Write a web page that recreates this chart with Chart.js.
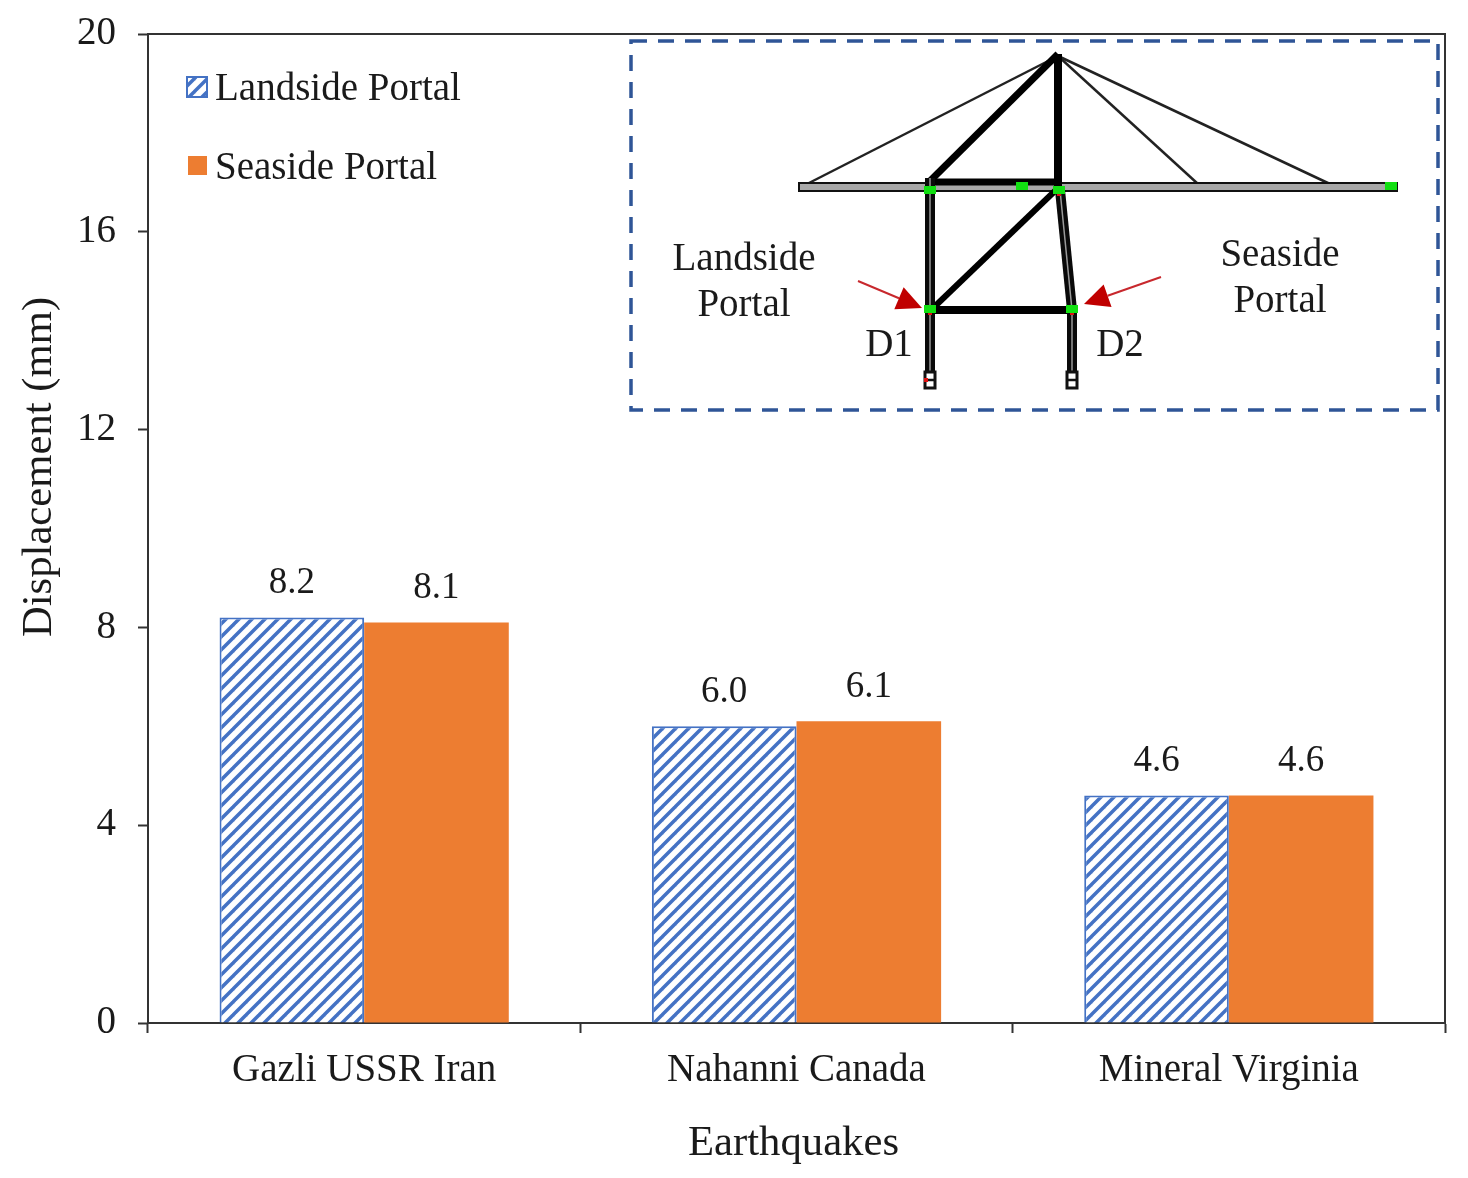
<!DOCTYPE html>
<html>
<head>
<meta charset="utf-8">
<title>Displacement by earthquake</title>
<script src="https://cdn.jsdelivr.net/npm/chart.js@4/dist/chart.umd.min.js"></script>
<style>
    html, body { margin: 0; padding: 0; background: #ffffff; }
    canvas { display: block; }
</style>
</head>
<body>
<canvas id="displacementChart" width="1468" height="1178"></canvas>
<script>
// Chart data
const earthquakes = ['Gazli USSR Iran', 'Nahanni Canada', 'Mineral Virginia'];
const landsideValues = [8.2, 6.0, 4.6];
const seasideValues = [8.1, 6.1, 4.6];
const yTicks = [0, 4, 8, 12, 16, 20];

const SERIF = '"Liberation Serif", "Times New Roman", serif';
const TEXT_COLOR = '#1a1a1a';
const AXIS_COLOR = '#333333';
const BLUE = '#4472c4';
const ORANGE = '#ed7d31';

// Diagonal hatch used by the landside bars
function makeHatch() {
    const size = 13;
    const tile = document.createElement('canvas');
    tile.width = size;
    tile.height = size;
    const c = tile.getContext('2d');
    c.fillStyle = '#ffffff';
    c.fillRect(0, 0, size, size);
    c.strokeStyle = BLUE;
    c.lineWidth = 3.5;
    [-size, 0, size].forEach(off => {
        c.beginPath();
        c.moveTo(off - 1, size + 1);
        c.lineTo(off + size + 1, -1);
        c.stroke();
    });
    return c.createPattern(tile, 'repeat');
}

function line(ctx, x1, y1, x2, y2, width, color) {
    ctx.strokeStyle = color || '#000000';
    ctx.lineWidth = width;
    ctx.beginPath();
    ctx.moveTo(x1, y1);
    ctx.lineTo(x2, y2);
    ctx.stroke();
}

// Double-walled member: dark outer stroke with a light core
function member(ctx, x1, y1, x2, y2, width) {
    line(ctx, x1, y1, x2, y2, width, '#0a0a0a');
    line(ctx, x1, y1, x2, y2, 1.5, '#9a9a9a');
}

function arrow(ctx, x1, y1, x2, y2) {
    const angle = Math.atan2(y2 - y1, x2 - x1);
    const headLen = 25;
    const headHalf = 12;
    const bx = x2 - headLen * Math.cos(angle);
    const by = y2 - headLen * Math.sin(angle);
    line(ctx, x1, y1, bx, by, 2, '#c8282d');
    ctx.fillStyle = '#c00000';
    ctx.beginPath();
    ctx.moveTo(x2, y2);
    ctx.lineTo(bx - headHalf * Math.sin(angle), by + headHalf * Math.cos(angle));
    ctx.lineTo(bx + headHalf * Math.sin(angle), by - headHalf * Math.cos(angle));
    ctx.closePath();
    ctx.fill();
}

// Crane sketch in the dashed box at the top right
function drawInset(ctx) {
    ctx.save();
    ctx.setLineDash([16, 11]);
    ctx.strokeStyle = '#2f5597';
    ctx.lineWidth = 3.5;
    ctx.strokeRect(631, 41, 807, 369);
    ctx.setLineDash([]);
    ctx.lineCap = 'butt';

    // Stays
    line(ctx, 1058, 56, 807, 184, 2.5, '#222222');
    line(ctx, 1058, 56, 1198, 184, 2.5, '#222222');
    line(ctx, 1058, 56, 1330, 184, 2.5, '#222222');

    // Boom
    ctx.fillStyle = '#a8a8a8';
    ctx.fillRect(799, 183, 598, 8);
    ctx.strokeStyle = '#111111';
    ctx.lineWidth = 2;
    ctx.strokeRect(799, 183, 598, 8);

    // Heavy frame
    line(ctx, 1058, 54, 930, 181, 7);
    line(ctx, 1058, 54, 1058, 186, 8);
    line(ctx, 927, 182, 1060, 182, 7);
    line(ctx, 1058, 188, 930, 311, 6);
    line(ctx, 930, 310, 1072, 310, 8);

    // Portal legs
    member(ctx, 930, 178, 930, 372, 10);
    member(ctx, 1060, 190, 1072, 310, 10);
    member(ctx, 1072, 310, 1072, 372, 10);

    // Feet
    [930, 1072].forEach(x => {
        ctx.fillStyle = '#ffffff';
        ctx.fillRect(x - 5, 372, 10, 16);
        ctx.strokeStyle = '#111111';
        ctx.lineWidth = 3;
        ctx.strokeRect(x - 5, 372, 10, 16);
        line(ctx, x - 5, 380, x + 5, 380, 2.5, '#111111');
    });

    // Node markers
    ctx.fillStyle = '#e01010';
    [[930, 313], [1059, 194], [1072, 313], [926, 380]].forEach(p => {
        ctx.fillRect(p[0] - 2, p[1] - 2, 4, 4);
    });
    ctx.fillStyle = '#12e012';
    [[930, 190], [1022, 186], [1059, 190], [1391, 186], [930, 309], [1072, 309]].forEach(p => {
        ctx.fillRect(p[0] - 6, p[1] - 4, 12, 8);
    });

    arrow(ctx, 858, 281, 922, 308);
    arrow(ctx, 1161, 277, 1084, 304);

    ctx.fillStyle = TEXT_COLOR;
    ctx.font = '39px ' + SERIF;
    ctx.textAlign = 'center';
    ctx.textBaseline = 'middle';
    ctx.fillText('Landside', 744, 260);
    ctx.fillText('Portal', 744, 306);
    ctx.fillText('Seaside', 1280, 256);
    ctx.fillText('Portal', 1280, 302);
    ctx.fillText('D1', 889, 346);
    ctx.fillText('D2', 1120, 346);
    ctx.restore();
}

// Axis titles sit off-centre in the original, so they are placed by hand
function drawAxisTitles(ctx) {
    ctx.save();
    ctx.fillStyle = TEXT_COLOR;
    ctx.font = '42.7px ' + SERIF;
    ctx.textAlign = 'center';
    ctx.textBaseline = 'middle';
    ctx.fillText('Earthquakes', 793.5, 1144);
    ctx.translate(40, 467);
    ctx.rotate(-Math.PI / 2);
    ctx.fillText('Displacement (mm)', 0, 0);
    ctx.restore();
}

// Legend, value labels, frame and inset
const decorations = {
    id: 'decorations',
    afterDatasetsDraw(chart) {
        const ctx = chart.ctx;
        const area = chart.chartArea;

        ctx.save();
        ctx.strokeStyle = AXIS_COLOR;
        ctx.lineWidth = 2;
        ctx.beginPath();
        ctx.moveTo(area.left, area.top);
        ctx.lineTo(area.right, area.top);
        ctx.lineTo(area.right, area.bottom);
        ctx.stroke();

        // Value labels above each bar
        ctx.fillStyle = TEXT_COLOR;
        ctx.font = '37px ' + SERIF;
        ctx.textAlign = 'center';
        ctx.textBaseline = 'middle';
        chart.data.datasets.forEach((dataset, i) => {
            chart.getDatasetMeta(i).data.forEach((bar, j) => {
                ctx.fillText(dataset.data[j].toFixed(1), bar.x, bar.y - 34);
            });
        });

        // Legend
        const rows = [
            { x: 187, y: 77, size: 20 },
            { x: 188, y: 156, size: 19 }
        ];
        ctx.textAlign = 'left';
        ctx.font = '39px ' + SERIF;
        chart.data.datasets.forEach((dataset, i) => {
            const row = rows[i];
            ctx.fillStyle = dataset.backgroundColor;
            ctx.fillRect(row.x, row.y, row.size, row.size);
            if (dataset.borderWidth) {
                ctx.strokeStyle = dataset.borderColor;
                ctx.lineWidth = 2;
                ctx.strokeRect(row.x, row.y, row.size, row.size);
            }
            ctx.fillStyle = TEXT_COLOR;
            ctx.fillText(dataset.label, 215, row.y + 13);
        });
        ctx.restore();

        drawAxisTitles(ctx);
        drawInset(ctx);
    }
};

const canvas = document.getElementById('displacementChart');

new Chart(canvas.getContext('2d'), {
    type: 'bar',
    data: {
        labels: earthquakes,
        datasets: [
            {
                label: 'Landside Portal',
                data: landsideValues,
                backgroundColor: makeHatch(),
                borderColor: BLUE,
                borderWidth: 2
            },
            {
                label: 'Seaside Portal',
                data: seasideValues,
                backgroundColor: ORANGE,
                borderWidth: 0
            }
        ]
    },
    options: {
        responsive: false,
        animation: false,
        layout: { padding: { top: 34, right: 23, left: 0, bottom: 0 } },
        plugins: {
            legend: { display: false },
            tooltip: { enabled: false }
        },
        datasets: {
            bar: { barPercentage: 1, categoryPercentage: 0.669 }
        },
        scales: {
            x: {
                afterFit(scale) { scale.height = 155; },
                grid: {
                    display: true,
                    offset: true,
                    drawOnChartArea: false,
                    drawTicks: true,
                    tickLength: 10,
                    tickColor: AXIS_COLOR,
                    tickWidth: 2
                },
                border: { color: AXIS_COLOR, width: 2 },
                ticks: {
                    color: TEXT_COLOR,
                    font: { family: SERIF, size: 39 },
                    padding: 14,
                    maxRotation: 0
                }
            },
            y: {
                min: 0,
                max: 20,
                afterFit(scale) {
                    scale.width = 148;
                    // tick padding would otherwise push the plot area down
                    scale.paddingTop = 0;
                    scale.paddingBottom = 0;
                },
                afterBuildTicks(scale) { scale.ticks = yTicks.map(v => ({ value: v })); },
                grid: {
                    display: true,
                    drawOnChartArea: false,
                    drawTicks: true,
                    tickLength: 10,
                    tickColor: AXIS_COLOR,
                    tickWidth: 2
                },
                border: { color: AXIS_COLOR, width: 2 },
                ticks: {
                    color: TEXT_COLOR,
                    font: { family: SERIF, size: 39 },
                    padding: 22
                }
            }
        }
    },
    plugins: [decorations]
});
</script>
</body>
</html>
